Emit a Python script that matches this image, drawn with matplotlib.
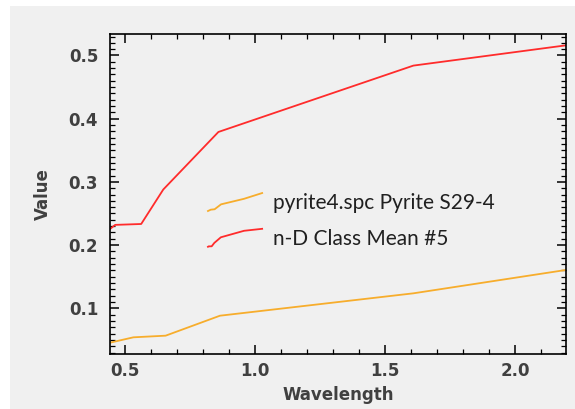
#!/usr/bin/env python3
"""
Spectral plot: library spectrum vs. n-D class mean.
"""
import matplotlib
matplotlib.use("Agg")
import matplotlib.pyplot as plt
from matplotlib.legend_handler import HandlerBase
from matplotlib.lines import Line2D
from matplotlib.patches import Rectangle
from matplotlib.ticker import MultipleLocator
import numpy as np

# Data
pyrite_wl = [0.442, 0.532, 0.656, 0.865, 1.609, 2.195]
pyrite_val = [0.0456, 0.0541, 0.0567, 0.0883, 0.1237, 0.1606]

classmean_wl = [0.442, 0.462, 0.562, 0.647, 0.859, 1.609, 2.195]
classmean_val = [0.2255, 0.232, 0.2334, 0.288, 0.379, 0.484, 0.516]

series_labels = ["pyrite4.spc Pyrite S29-4", "n-D Class Mean #5"]
series_colors = ["#f7ad2c", "#ff2b2b"]

BG = "#f0f0f0"
TXT = "#404040"


class MiniSpectrumHandler(HandlerBase):
    """Legend handle that draws a small copy of the spectrum."""

    def __init__(self, xs, ys, color):
        super().__init__()
        self.xs = np.asarray(xs)
        self.ys = np.asarray(ys)
        self.color = color

    def create_artists(self, legend, orig_handle, xdescent, ydescent,
                       width, height, fontsize, trans):
        xn = (self.xs - self.xs.min()) / (self.xs.max() - self.xs.min())
        yn = (self.ys - self.ys.min()) / (self.ys.max() - self.ys.min())
        line = Line2D(xn * width - xdescent, yn * height - ydescent,
                      color=self.color, lw=1.3, transform=trans)
        return [line]


fig = plt.figure(figsize=(5.75, 4.09), dpi=100, facecolor="white")
fig.patches.append(Rectangle((10 / 575, 0), 1, 1 - 6 / 409, transform=fig.transFigure,
                             facecolor=BG, edgecolor="none", zorder=-10))

ax = fig.add_axes([110 / 575, 1 - 354 / 409, (565.7 - 110) / 575, (354 - 34) / 409])
ax.set_facecolor(BG)

h1, = ax.plot(pyrite_wl, pyrite_val, color=series_colors[0], lw=1.3)
h2, = ax.plot(classmean_wl, classmean_val, color=series_colors[1], lw=1.3)

ax.set_xlim(0.442, 2.195)
ax.set_ylim(0.0277, 0.534)

ax.xaxis.set_major_locator(MultipleLocator(0.5))
ax.xaxis.set_minor_locator(MultipleLocator(0.1))
ax.yaxis.set_major_locator(MultipleLocator(0.1))
ax.yaxis.set_minor_locator(MultipleLocator(0.01))
ax.xaxis.set_major_formatter(plt.FormatStrFormatter("%.1f"))
ax.yaxis.set_major_formatter(plt.FormatStrFormatter("%.1f"))

ax.tick_params(which="both", direction="in", top=True, right=True, color="black")
ax.tick_params(which="major", length=6.5, width=1.1, labelsize=12, labelcolor=TXT)
ax.tick_params(axis="x", which="major", pad=6)
ax.tick_params(axis="y", which="major", pad=8.5)
ax.tick_params(which="minor", length=3.5, width=0.9)
for lab in ax.get_xticklabels() + ax.get_yticklabels():
    lab.set_fontweight("bold")
for sp in ax.spines.values():
    sp.set_linewidth(1.2)

ax.set_xlabel("Wavelength", fontsize=12, fontweight="bold", color=TXT, labelpad=4)
ax.set_ylabel("Value", fontsize=12, fontweight="bold", color=TXT, labelpad=12)

leg = ax.legend([h1, h2], series_labels,
                handler_map={h1: MiniSpectrumHandler(pyrite_wl, pyrite_val, series_colors[0]),
                             h2: MiniSpectrumHandler(classmean_wl, classmean_val, series_colors[1])},
                loc="upper left", bbox_to_anchor=(0.215, 0.503), frameon=False,
                borderpad=0, borderaxespad=0,
                prop={"family": "Lato", "size": 15}, labelcolor="#202020",
                handlelength=2.6, handleheight=0.95, handletextpad=0.5, labelspacing=0.75)

fig.savefig("out.png", dpi=100, facecolor=fig.get_facecolor())
